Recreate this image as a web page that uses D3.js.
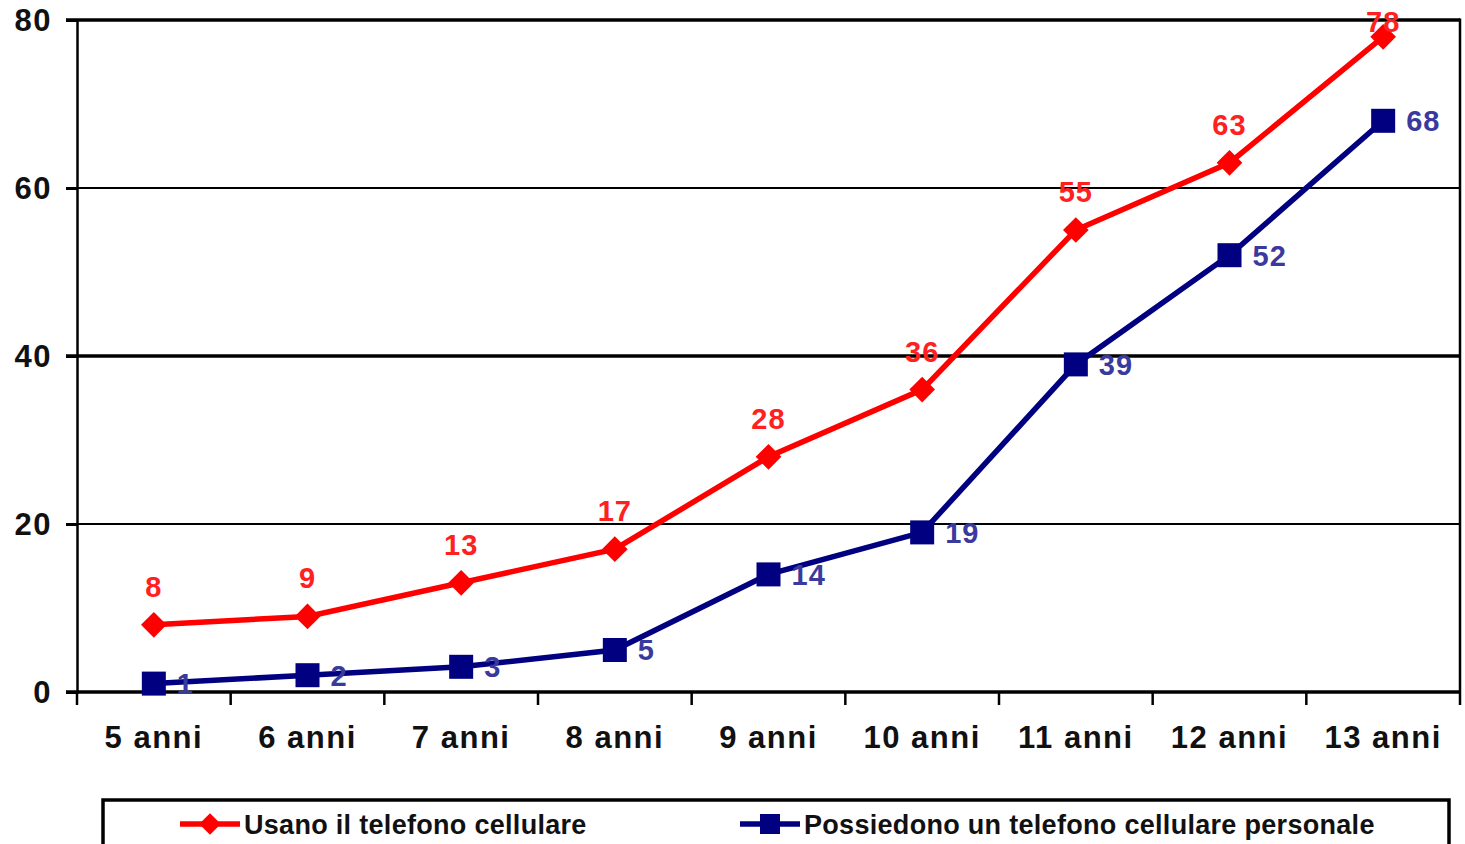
<!DOCTYPE html>
<html>
<head>
<meta charset="utf-8">
<script src="https://cdn.jsdelivr.net/npm/d3@7"></script>
<style>
  html, body { margin: 0; padding: 0; background: #fff; }
  svg { display: block; font-family: "Liberation Sans", Arial, sans-serif; }
</style>
</head>
<body>
<svg id="chart" width="1465" height="844"></svg>
<script>
// Età dei bambini (categorie sull'asse X)
const categories = ["5 anni", "6 anni", "7 anni", "8 anni", "9 anni", "10 anni", "11 anni", "12 anni", "13 anni"];
// Percentuali per serie
const usano = [8, 9, 13, 17, 28, 36, 55, 63, 78];
const possiedono = [1, 2, 3, 5, 14, 19, 39, 52, 68];
const seriesNames = ["Usano il telefono cellulare", "Possiedono un telefono cellulare personale"];
const yTicks = [0, 20, 40, 60, 80];

const svg = d3.select("#chart");
const plotLeft = 77, plotRight = 1460, plotTop = 20, plotBottom = 692;

const x = d3.scaleBand().domain(categories).range([plotLeft, plotRight]).padding(0);
const y = d3.scaleLinear().domain([0, 80]).range([plotBottom, plotTop]);
const cx = c => x(c) + x.bandwidth() / 2;

// Linee orizzontali della griglia
svg.append("g").selectAll("line").data(yTicks.filter(v => v > 0)).join("line")
  .attr("x1", plotLeft - 11).attr("x2", plotRight)
  .attr("y1", d => y(d)).attr("y2", d => y(d))
  .attr("stroke", "#000")
  .attr("stroke-width", d => (d === 40 || d === 80) ? 3.5 : 1.8);

// Bordo destro
svg.append("line").attr("x1", plotRight).attr("x2", plotRight).attr("y1", y(80) - 1.5).attr("y2", plotBottom)
  .attr("stroke", "#000").attr("stroke-width", 2.5);

// Asse Y
const yAxis = svg.append("g").attr("transform", `translate(${plotLeft},0)`)
  .call(d3.axisLeft(y).tickValues(yTicks).tickSize(11).tickPadding(14));
yAxis.select(".domain").attr("stroke", "#000").attr("stroke-width", 2.5);
yAxis.selectAll(".tick line").attr("stroke", "#000").attr("stroke-width", 3);
yAxis.selectAll(".tick text").attr("font-size", 31).attr("font-weight", "bold").attr("fill", "#111")
  .attr("letter-spacing", 1.5).attr("dy", "0.35em");

// Asse X con tacche ai bordi delle categorie
const xAxis = svg.append("g").attr("transform", `translate(0,${plotBottom})`)
  .call(d3.axisBottom(x).tickSize(0).tickPadding(34));
xAxis.select(".domain").attr("stroke", "#000").attr("stroke-width", 3.5)
  .attr("d", `M${plotLeft - 11},0H${plotRight}`);
xAxis.selectAll(".tick text").attr("font-size", 31).attr("font-weight", "bold").attr("fill", "#111")
  .attr("letter-spacing", 1.5).attr("dy", "0.72em");
svg.append("g").selectAll("line").data(d3.range(categories.length + 1)).join("line")
  .attr("x1", i => plotLeft + i * x.step()).attr("x2", i => plotLeft + i * x.step())
  .attr("y1", plotBottom).attr("y2", plotBottom + 13)
  .attr("stroke", "#000").attr("stroke-width", 2.5);

const line = d3.line().x((d, i) => cx(categories[i])).y(d => y(d));
const red = "#ff0000", navy = "#000080";

// Serie: possiedono (blu, quadrati)
svg.append("path").datum(possiedono).attr("d", line)
  .attr("fill", "none").attr("stroke", navy).attr("stroke-width", 5.5);
svg.append("g").selectAll("rect").data(possiedono).join("rect")
  .attr("x", (d, i) => cx(categories[i]) - 12).attr("y", d => y(d) - 12)
  .attr("width", 24).attr("height", 24).attr("fill", navy);

// Serie: usano (rosso, rombi)
svg.append("path").datum(usano).attr("d", line)
  .attr("fill", "none").attr("stroke", red).attr("stroke-width", 5.5);
svg.append("g").selectAll("path").data(usano).join("path")
  .attr("d", d3.symbol().type(d3.symbolDiamond2).size(420))
  .attr("transform", (d, i) => `translate(${cx(categories[i])},${y(d)})`)
  .attr("fill", red);

// Etichette dei valori
svg.append("g").selectAll("text").data(possiedono).join("text")
  .attr("x", (d, i) => cx(categories[i]) + 23).attr("y", d => y(d))
  .attr("dy", "0.36em")
  .attr("font-size", 29).attr("font-weight", "bold").attr("fill", "#3a3a9e")
  .attr("letter-spacing", 1)
  .text(d => d);
svg.append("g").selectAll("text").data(usano).join("text")
  .attr("x", (d, i) => cx(categories[i])).attr("y", d => Math.max(y(d) - 28, 32))
  .attr("text-anchor", "middle")
  .attr("font-size", 29).attr("font-weight", "bold").attr("fill", "#ff2020")
  .attr("letter-spacing", 1)
  .text(d => d);

// Legenda
const lg = svg.append("g");
lg.append("rect").attr("x", 103).attr("y", 800).attr("width", 1346).attr("height", 70)
  .attr("fill", "#fff").attr("stroke", "#000").attr("stroke-width", 3.5);
const legendItems = [
  { name: seriesNames[0], color: red, x0: 180, shape: "diamond" },
  { name: seriesNames[1], color: navy, x0: 740, shape: "square" }
];
const ly = 824;
legendItems.forEach(it => {
  lg.append("line").attr("x1", it.x0).attr("x2", it.x0 + 60).attr("y1", ly).attr("y2", ly)
    .attr("stroke", it.color).attr("stroke-width", 5.5);
  if (it.shape === "diamond") {
    lg.append("path").attr("d", d3.symbol().type(d3.symbolDiamond2).size(300))
      .attr("transform", `translate(${it.x0 + 30},${ly})`).attr("fill", it.color);
  } else {
    lg.append("rect").attr("x", it.x0 + 20).attr("y", ly - 10).attr("width", 20).attr("height", 20)
      .attr("fill", it.color);
  }
  lg.append("text").attr("x", it.x0 + 64).attr("y", ly).attr("dy", "0.36em")
    .attr("font-size", 27).attr("font-weight", "bold").attr("fill", "#111")
    .attr("letter-spacing", 0.3)
    .text(it.name);
});
</script>
</body>
</html>
